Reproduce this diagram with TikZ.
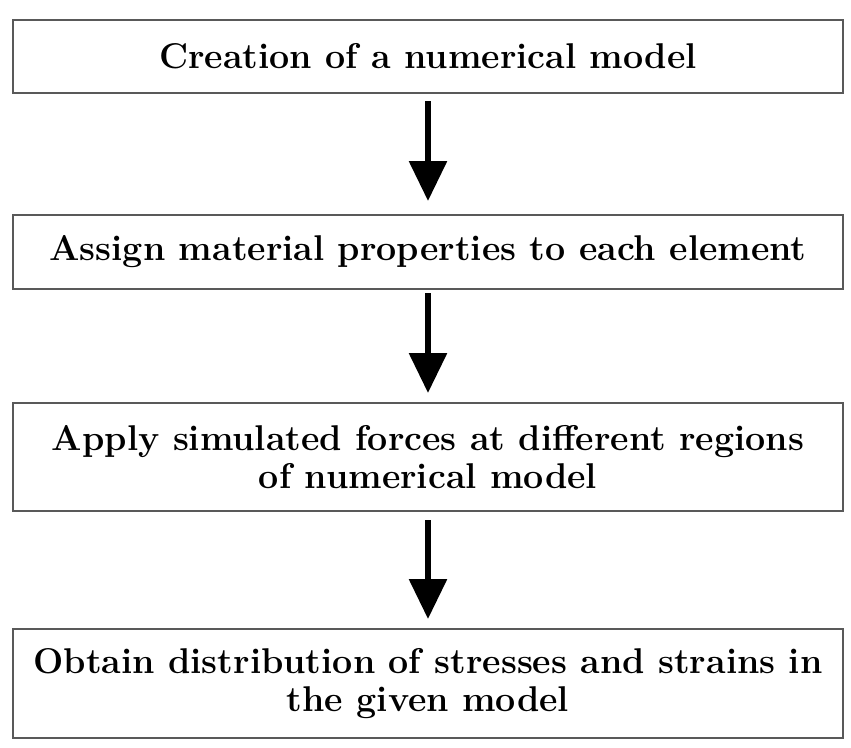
\documentclass[tikz,border=0pt]{standalone}
\usetikzlibrary{arrows.meta}
\begin{document}
\begin{tikzpicture}[x=1pt,y=-1pt,
  stepbox/.style={draw=black!65,line width=2pt,fill=white,minimum width=830pt,
    align=center,inner sep=0pt,font=\fontsize{35.8}{38}\selectfont\bfseries},
  flow/.style={line width=6pt,-{Triangle[length=40pt,width=37pt]}}]
\useasboundingbox (0,0) rectangle (851,747);
\node[stepbox,minimum height=73pt] (b1) at (428,56.5) {Creation of a numerical model};
\node[stepbox,minimum height=74pt] (b2) at (428,252) {Assign material properties to each element};
\node[stepbox,minimum height=108pt] (b3) at (428,457) {Apply simulated forces at different regions\\of numerical model};
\node[stepbox,minimum height=109pt] (b4) at (428,683.5) {Obtain distribution of stresses and strains in\\the given model};
\draw[flow,shorten <=7pt,shorten >=13pt] (b1.south) -- (b2.north);
\draw[flow,shorten <=3pt,shorten >=9pt] (b2.south) -- (b3.north);
\draw[flow,shorten <=8pt,shorten >=9pt] (b3.south) -- (b4.north);
\end{tikzpicture}
\end{document}
